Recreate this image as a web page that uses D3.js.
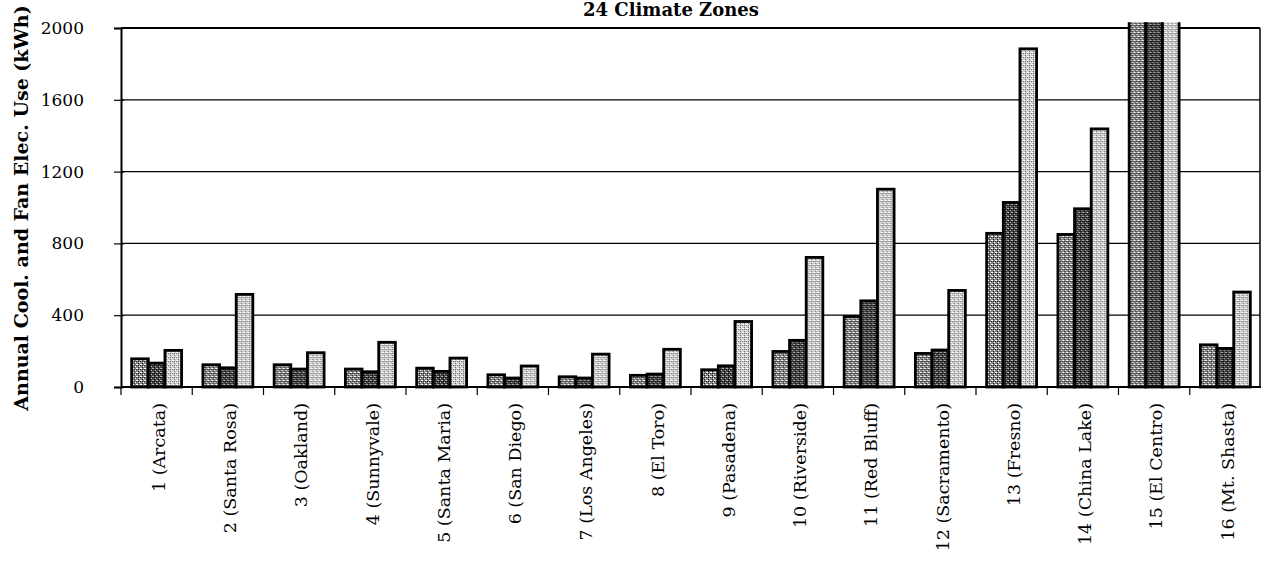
<!DOCTYPE html>
<html>
<head>
<meta charset="utf-8">
<script src="https://cdn.jsdelivr.net/npm/d3@7"></script>
<style>
  html, body { margin: 0; padding: 0; background: #fff; }
  svg { display: block; }
  text { font-family: "DejaVu Serif", serif; fill: #000; }
</style>
</head>
<body>
<svg id="chart"></svg>
<script>
const zones = [
  "1 (Arcata)", "2 (Santa Rosa)", "3 (Oakland)", "4 (Sunnyvale)",
  "5 (Santa Maria)", "6 (San Diego)", "7 (Los Angeles)", "8 (El Toro)",
  "9 (Pasadena)", "10 (Riverside)", "11 (Red Bluff)", "12 (Sacramento)",
  "13 (Fresno)", "14 (China Lake)", "15 (El Centro)", "16 (Mt. Shasta)",
];

// three cases per zone (no legend in the source); zone 15 runs off the top
const seriesA = [157, 124, 124, 100, 105, 68, 57, 65, 96, 198, 393, 187, 856, 850, 2400, 235];
const seriesB = [133, 107, 100, 85, 87, 50, 50, 72, 118, 260, 480, 206, 1028, 993, 2600, 215];
const seriesC = [204, 516, 191, 249, 161, 117, 183, 210, 365, 722, 1102, 538, 1884, 1438, 2800, 529];

const seriesNames = ["A", "B", "C"];
const yTicks = [0, 400, 800, 1200, 1600, 2000];

const W = 1262;
const H = 561;
const margin = { top: 28, right: 1, bottom: 174, left: 121 };
const width = W - margin.left - margin.right;
const height = H - margin.top - margin.bottom;

const svgRoot = d3.select("#chart").attr("width", W).attr("height", H);

// stipple fills
const defs = svgRoot.append("defs");
const stipples = [
  { id: "fillA", bg: "#858585", light: "#ffffff", dark: "#222222" },
  { id: "fillB", bg: "#454545", light: "#b0b0b0", dark: "#000000" },
  { id: "fillC", bg: "#cfcfcf", light: "#ffffff", dark: "#707070" },
];
stipples.forEach((s) => {
  const p = defs
    .append("pattern")
    .attr("id", s.id)
    .attr("width", 4)
    .attr("height", 4)
    .attr("patternUnits", "userSpaceOnUse");
  p.append("rect").attr("width", 4).attr("height", 4).attr("fill", s.bg);
  [[0, 0], [2, 2], [3, 0]].forEach(([x, y]) =>
    p.append("rect").attr("x", x).attr("y", y).attr("width", 1).attr("height", 1).attr("fill", s.light)
  );
  [[1, 3], [3, 1], [1, 1]].forEach(([x, y]) =>
    p.append("rect").attr("x", x).attr("y", y).attr("width", 1).attr("height", 1).attr("fill", s.dark)
  );
});

const svg = svgRoot.append("g").attr("transform", `translate(${margin.left},${margin.top})`);

const x0 = d3.scaleBand().domain(zones).range([0, width]);
const x1 = d3
  .scaleBand()
  .domain(seriesNames)
  .range([0, x0.bandwidth()])
  .paddingInner(0)
  .paddingOuter(0.64);
const y = d3.scaleLinear().domain([0, 2000]).range([height, 0]);

const rows = zones.map((z, i) => ({
  zone: z,
  vals: [
    { key: "A", v: seriesA[i], fill: "url(#fillA)" },
    { key: "B", v: seriesB[i], fill: "url(#fillB)" },
    { key: "C", v: seriesC[i], fill: "url(#fillC)" },
  ],
}));

// clip so the El Centro bars stop just above the frame
defs
  .append("clipPath")
  .attr("id", "plotClip")
  .append("rect")
  .attr("x", -5)
  .attr("y", y(2032))
  .attr("width", width + 10)
  .attr("height", height - y(2032) + 5);

// Gridlines
svg
  .append("g")
  .selectAll("line")
  .data(yTicks.filter((d) => d > 0))
  .enter()
  .append("line")
  .attr("x1", 0)
  .attr("x2", width - 1)
  .attr("y1", (d) => y(d))
  .attr("y2", (d) => y(d))
  .attr("stroke", "#000")
  .attr("stroke-width", (d) => (d === 2000 ? 2 : 1.2));

// right border of the frame
svg
  .append("line")
  .attr("x1", width - 1)
  .attr("x2", width - 1)
  .attr("y1", y(2000))
  .attr("y2", y(0))
  .attr("stroke", "#000")
  .attr("stroke-width", 1.5);

// Bars
svg
  .append("g")
  .attr("clip-path", "url(#plotClip)")
  .selectAll("g")
  .data(rows)
  .enter()
  .append("g")
  .attr("transform", (d) => `translate(${x0(d.zone)},0)`)
  .selectAll("rect")
  .data((d) => d.vals)
  .enter()
  .append("rect")
  .attr("x", (d) => x1(d.key))
  .attr("y", (d) => y(d.v))
  .attr("width", x1.bandwidth())
  .attr("height", (d) => y(0) - y(d.v))
  .attr("fill", (d) => d.fill)
  .attr("stroke", "#000")
  .attr("stroke-width", 2.8);

// Y axis
const yAxis = svg
  .append("g")
  .call(d3.axisLeft(y).tickValues(yTicks).tickSize(7).tickPadding(30).tickFormat(d3.format("d")));
yAxis.select(".domain").attr("stroke-width", 2);
yAxis.selectAll(".tick line").attr("stroke-width", 1.2).attr("x2", -7).attr("x1", 3);
yAxis.selectAll("text").attr("font-size", "17px").attr("font-family", "DejaVu Serif, serif");

// X axis: ticks at zone boundaries
svg
  .append("line")
  .attr("x1", 0)
  .attr("x2", width)
  .attr("y1", y(0))
  .attr("y2", y(0))
  .attr("stroke", "#000")
  .attr("stroke-width", 2);

svg
  .append("g")
  .selectAll("line")
  .data(zones)
  .enter()
  .append("line")
  .attr("x1", (d) => x0(d))
  .attr("x2", (d) => x0(d))
  .attr("y1", y(0))
  .attr("y2", y(0) + 8)
  .attr("stroke", "#000")
  .attr("stroke-width", 1.2);

svg
  .append("g")
  .selectAll("text")
  .data(zones)
  .enter()
  .append("text")
  .attr("transform", (d) => `translate(${x0(d) + x0.bandwidth() / 2 + 2},${y(0) + 16}) rotate(-90)`)
  .attr("text-anchor", "end")
  .attr("dy", "0.35em")
  .attr("font-size", "17.5px")
  .text((d) => d);

// Title, tucked against the top edge as in the source
svgRoot
  .append("text")
  .attr("x", margin.left + width / 2 - 20)
  .attr("y", 16)
  .attr("text-anchor", "middle")
  .attr("font-size", "18px")
  .attr("font-weight", "bold")
  .text("24 Climate Zones");

// Y label
svgRoot
  .append("text")
  .attr("transform", `translate(21,208) rotate(-90)`)
  .attr("text-anchor", "middle")
  .attr("dy", "0.35em")
  .attr("font-size", "19px")
  .attr("font-weight", "bold")
  .text("Annual Cool. and Fan Elec. Use (kWh)");
</script>
</body>
</html>
